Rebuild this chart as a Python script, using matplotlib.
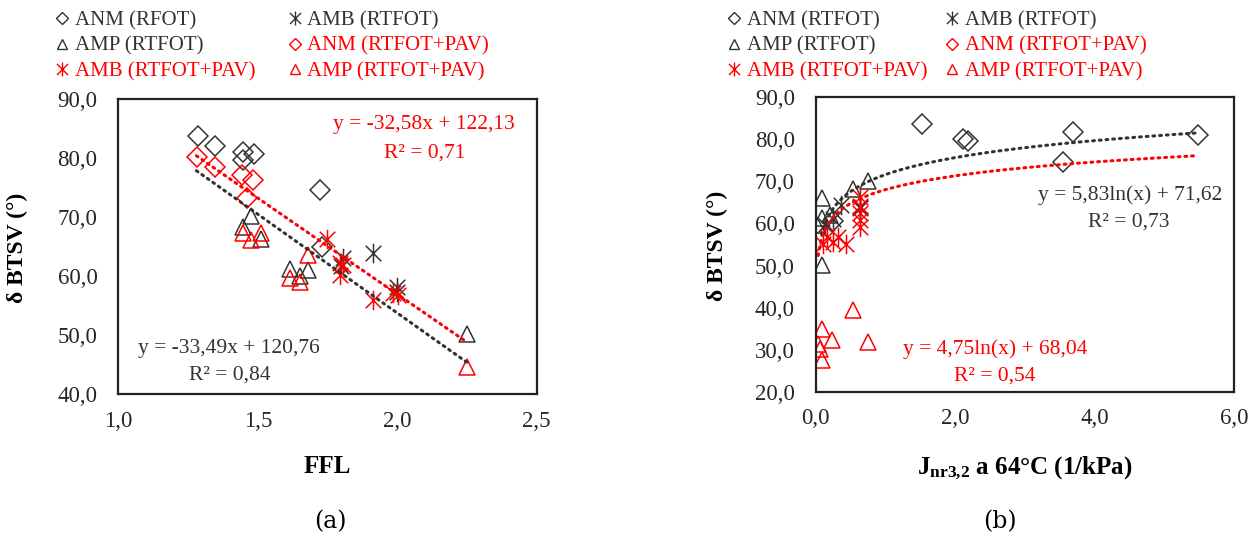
import numpy as np
import matplotlib
matplotlib.use('Agg')
import matplotlib.pyplot as plt
from matplotlib.path import Path
from matplotlib.lines import Line2D
from matplotlib.ticker import FuncFormatter

plt.rcParams['font.family'] = ['Liberation Serif', 'DejaVu Serif']
plt.rcParams['mathtext.fontset'] = 'custom'
plt.rcParams['mathtext.rm'] = 'Liberation Serif'
plt.rcParams['mathtext.bf'] = 'Liberation Serif:bold'

# ---- dados (a): FFL x delta BTSV
ffl_anm = [1.285, 1.347, 1.448, 1.486, 1.448, 1.723, 1.729]
bt_anm = [83.8, 82.0, 81.1, 80.8, 79.7, 74.7, 65.0]
ffl_amb = [1.804, 1.800, 1.914, 1.998, 2.000]
bt_amb = [63.1, 61.7, 63.9, 58.2, 57.3]
ffl_amp = [1.475, 1.446, 1.510, 1.615, 1.681, 1.650, 2.249]
bt_amp = [70.2, 68.3, 66.3, 61.2, 61.1, 60.0, 50.3]
ffl_anm_pav = [1.283, 1.347, 1.442, 1.484, 1.460]
bt_anm_pav = [80.3, 78.5, 77.2, 76.4, 73.2]
ffl_amb_pav = [1.747, 1.795, 1.795, 1.806, 1.914, 1.986, 2.004]
bt_amb_pav = [66.4, 62.2, 60.2, 61.9, 55.9, 57.1, 56.8]
ffl_amp_pav = [1.446, 1.510, 1.475, 1.615, 1.651, 1.681, 2.249]
bt_amp_pav = [67.4, 67.4, 66.2, 59.7, 59.1, 63.6, 44.7]

# ---- dados (b): Jnr3,2 x delta BTSV
jnr_anm = [1.52, 2.11, 2.19, 3.69, 3.55, 5.49, 0.25]
bj_anm = [83.6, 80.0, 79.6, 81.8, 74.7, 81.0, 60.5]
jnr_amb = [0.37, 0.64, 0.13, 0.64, 0.25]
bj_amb = [64.4, 64.0, 59.6, 63.6, 61.0]
jnr_amp = [0.086, 0.755, 0.54, 0.086, 0.014, 0.205, 0.086]
bj_amp = [66.0, 70.1, 68.3, 61.2, 59.6, 62.0, 50.1]
jnr_amb_pav = [0.16, 0.25, 0.44, 0.32, 0.11, 0.64, 0.64, 0.64, 0.64, 0.64]
bj_amb_pav = [56.8, 55.6, 55.2, 56.8, 55.2, 66.3, 64.2, 62.4, 60.8, 59.2]
jnr_amp_pav = [0.54, 0.755, 0.086, 0.23, 0.037, 0.06, 0.086]
bj_amp_pav = [39.4, 31.8, 34.8, 32.2, 31.4, 30.2, 27.6]

# linhas de tendencia (coeficientes do grafico)
lin_rt = (-33.49, 120.76)
lin_pav = (-32.58, 122.13)
lin_rt_x = (1.28, 2.25)
lin_pav_x = (1.28, 2.25)
log_rt = (5.83, 71.62)
log_pav = (4.75, 68.04)
log_rt_x = (0.086, 5.49)
log_pav_x = (0.037, 5.42)

preto = '#333333'
verm = '#ff0000'

ast = Path([(0, -1), (0, 1), (-0.8, -0.8), (0.8, 0.8), (-0.8, 0.8), (0.8, -0.8)],
           [Path.MOVETO, Path.LINETO] * 3)

mk = {'D': dict(marker='D', ms=10.5), '^': dict(marker='^', ms=12), 'a': dict(marker=ast, ms=14)}

def pts(ax, x, y, m, c):
    ax.plot(x, y, ls='none', mfc='none', mec=c, mew=1.1, **mk[m])

fmt = FuncFormatter(lambda v, p: ('%.1f' % v).replace('.', ','))

fig = plt.figure(figsize=(12.56, 5.47), dpi=100)
ax1 = fig.add_axes([0.0942, 0.2792, 0.3331, 0.5393])
ax2 = fig.add_axes([0.6494, 0.2839, 0.3331, 0.5382])

# (a)
pts(ax1, ffl_anm, bt_anm, 'D', preto)
pts(ax1, ffl_anm_pav, bt_anm_pav, 'D', verm)
pts(ax1, ffl_amp, bt_amp, '^', preto)
pts(ax1, ffl_amp_pav, bt_amp_pav, '^', verm)
pts(ax1, ffl_amb, bt_amb, 'a', preto)
pts(ax1, ffl_amb_pav, bt_amb_pav, 'a', verm)
xx = np.linspace(*lin_rt_x, 50)
ax1.plot(xx, lin_rt[0] * xx + lin_rt[1], color=preto, lw=2.2, ls=(0, (0.6, 1.6)), dash_capstyle='round')
xx = np.linspace(*lin_pav_x, 50)
ax1.plot(xx, lin_pav[0] * xx + lin_pav[1], color=verm, lw=2.2, ls=(0, (0.6, 1.6)), dash_capstyle='round')
ax1.set_xlim(1.0, 2.5)
ax1.set_ylim(40, 90)
ax1.set_xticks([1.0, 1.5, 2.0, 2.5])
ax1.set_yticks(np.arange(40, 91, 10))
ax1.set_xlabel('FFL', fontsize=18, fontweight='bold')
ax1.xaxis.set_label_coords(0.499, -0.205)
ax1.text(0.73, 0.913, 'y = -32,58x + 122,13', transform=ax1.transAxes, color=verm, fontsize=15.5, ha='center', va='center')
ax1.text(0.733, 0.817, 'R² = 0,71', transform=ax1.transAxes, color=verm, fontsize=15.5, ha='center', va='center')
ax1.text(0.265, 0.156, 'y = -33,49x + 120,76', transform=ax1.transAxes, color=preto, fontsize=15.5, ha='center', va='center')
ax1.text(0.267, 0.065, 'R² = 0,84', transform=ax1.transAxes, color=preto, fontsize=15.5, ha='center', va='center')

# (b)
pts(ax2, jnr_anm, bj_anm, 'D', preto)
pts(ax2, jnr_amp, bj_amp, '^', preto)
pts(ax2, jnr_amp_pav, bj_amp_pav, '^', verm)
pts(ax2, jnr_amb, bj_amb, 'a', preto)
pts(ax2, jnr_amb_pav, bj_amb_pav, 'a', verm)
xx = np.linspace(*log_rt_x, 200)
ax2.plot(xx, log_rt[0] * np.log(xx) + log_rt[1], color=preto, lw=2.2, ls=(0, (0.6, 1.6)), dash_capstyle='round')
xx = np.linspace(*log_pav_x, 200)
ax2.plot(xx, log_pav[0] * np.log(xx) + log_pav[1], color=verm, lw=2.2, ls=(0, (0.6, 1.6)), dash_capstyle='round')
ax2.set_xlim(0, 6)
ax2.set_ylim(20, 90)
ax2.set_xticks([0, 2, 4, 6])
ax2.set_yticks(np.arange(20, 91, 10))
ax2.set_xlabel(r'$\mathbf{J_{nr3{,}2}}$ a 64°C (1/kPa)', fontsize=18, fontweight='bold')
ax2.xaxis.set_label_coords(0.5, -0.214)
ax2.text(0.751, 0.668, 'y = 5,83ln(x) + 71,62', transform=ax2.transAxes, color=preto, fontsize=15.5, ha='center', va='center')
ax2.text(0.749, 0.577, 'R² = 0,73', transform=ax2.transAxes, color=preto, fontsize=15.5, ha='center', va='center')
ax2.text(0.429, 0.144, 'y = 4,75ln(x) + 68,04', transform=ax2.transAxes, color=verm, fontsize=15.5, ha='center', va='center')
ax2.text(0.429, 0.053, 'R² = 0,54', transform=ax2.transAxes, color=verm, fontsize=15.5, ha='center', va='center')

for ax, lx in [(ax1, -0.216), (ax2, -0.21)]:
    ax.set_ylabel('δ BTSV (°)', fontsize=17, fontweight='bold')
    ax.yaxis.set_label_coords(lx, 0.497)
    ax.xaxis.set_major_formatter(fmt)
    ax.yaxis.set_major_formatter(fmt)
    ax.tick_params(length=0, labelsize=16.5, colors='#262626')
    ax.tick_params(axis='y', pad=15)
    ax.tick_params(axis='x', pad=12)
    for s in ax.spines.values():
        s.set_linewidth(1.6)
        s.set_color('#222222')

# legendas
def leg_handles(first):
    h = [Line2D([], [], ls='none', marker='D', ms=6, mfc='none', mec=preto, mew=1, label=first),
         Line2D([], [], ls='none', marker='^', ms=7, mfc='none', mec=preto, mew=1, label='AMP (RTFOT)'),
         Line2D([], [], ls='none', marker=ast, ms=10, mfc='none', mec=verm, mew=1, label='AMB (RTFOT+PAV)'),
         Line2D([], [], ls='none', marker=ast, ms=10, mfc='none', mec=preto, mew=1, label='AMB (RTFOT)'),
         Line2D([], [], ls='none', marker='D', ms=6, mfc='none', mec=verm, mew=1, label='ANM (RTFOT+PAV)'),
         Line2D([], [], ls='none', marker='^', ms=7, mfc='none', mec=verm, mew=1, label='AMP (RTFOT+PAV)')]
    return h

for first, x0, cs in [('ANM (RFOT)', 55 / 1256, 1.55), ('ANM (RTFOT)', 727 / 1256, 0.85)]:
    lg = fig.legend(handles=leg_handles(first), loc='upper left', bbox_to_anchor=(x0, 1 - 11 / 547),
                    ncol=2, frameon=False, fontsize=15, handlelength=0.7, handletextpad=0.25,
                    columnspacing=cs, labelspacing=0.27, borderpad=0, borderaxespad=0,
                    labelcolor='markeredgecolor')

fig.text(330 / 1256, 1 - 522 / 547, '(a)', fontsize=17, family='DejaVu Serif', ha='center', va='center')
fig.text(1000 / 1256, 1 - 522 / 547, '(b)', fontsize=17, family='DejaVu Serif', ha='center', va='center')

fig.savefig('out.png', dpi=100)
